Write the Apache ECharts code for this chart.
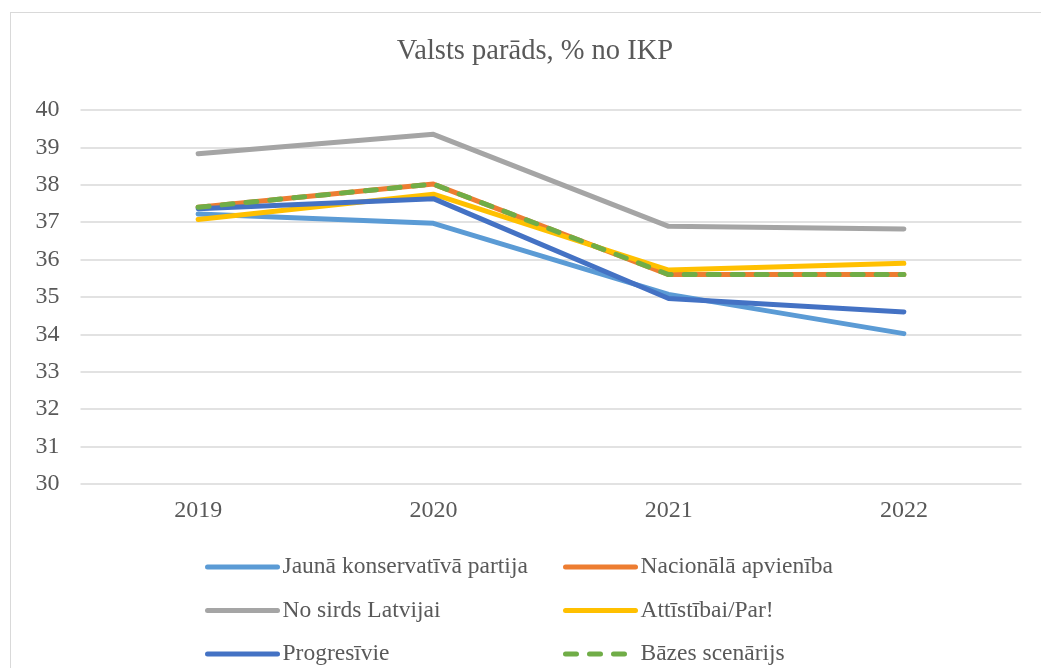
<!DOCTYPE html>
<html>
<head>
<meta charset="utf-8">
<script src="https://cdn.jsdelivr.net/npm/echarts@6/dist/echarts.min.js"></script>
<style>
  html, body { margin: 0; padding: 0; background: #fff; overflow: hidden; }
  #frame { position: absolute; left: 10px; top: 12px; width: 1100px; height: 760px; border: 1.5px solid #d9d9d9; }
  #chart { position: absolute; left: 0; top: 0; width: 1041px; height: 720px; }
</style>
</head>
<body>
<div id="frame"></div>
<div id="chart"></div>
<script>
const years = ['2019', '2020', '2021', '2022'];
const jaunaKonservativa = [37.22, 36.97, 35.07, 34.02];
const nacionalaApvieniba = [37.4, 38.02, 35.6, 35.6];
const noSirdsLatvijai = [38.83, 39.35, 36.89, 36.82];
const attistibaiPar = [37.07, 37.75, 35.72, 35.9];
const progresivie = [37.36, 37.63, 34.96, 34.6];
const bazesScenarijs = [37.4, 38.02, 35.6, 35.6];

const chart = echarts.init(document.getElementById('chart'));

const font = '"Liberation Serif", "Times New Roman", serif';
const textColor = '#595959';

function lineSeries(name, data, color, dash) {
  return {
    name: name,
    type: 'line',
    data: data,
    symbol: 'none',
    lineStyle: { color: color, width: 5, type: dash || 'solid', cap: 'round', join: 'round' },
    itemStyle: { color: color }
  };
}

// legend columns: icon is the line only (symbol hidden)
function legendColumn(left, names) {
  return {
    orient: 'vertical',
    left: left,
    top: 550,
    itemWidth: 70,
    itemHeight: 24,
    itemGap: 19.5,
    data: names,
    itemStyle: { opacity: 0 },
    lineStyle: { width: 5, cap: 'round' },
    textStyle: { color: textColor, fontSize: 23.5, fontFamily: font, lineHeight: 24 }
  };
}

const option = {
  backgroundColor: 'transparent',
  animation: false,
  title: {
    text: 'Valsts parāds, % no IKP',
    left: 530,
    top: 32,
    textAlign: 'center',
    textStyle: { color: textColor, fontSize: 28.5, fontWeight: 'normal', fontFamily: font }
  },
  legend: [
    legendColumn(200, ['Jaunā konservatīvā partija', 'No sirds Latvijai', 'Progresīvie']),
    legendColumn(558, ['Nacionālā apvienība', 'Attīstībai/Par!', 'Bāzes scenārijs'])
  ],
  grid: { left: 80.5, right: 19.5, top: 110, bottom: 236 },
  xAxis: {
    type: 'category',
    data: years,
    boundaryGap: true,
    axisLine: { show: false },
    axisTick: { show: false },
    axisLabel: { color: textColor, fontSize: 24, fontFamily: font, margin: 15 }
  },
  yAxis: {
    type: 'value',
    min: 30,
    max: 40,
    interval: 1,
    axisLine: { show: false },
    axisTick: { show: false },
    axisLabel: { color: textColor, fontSize: 24, fontFamily: font, margin: 21 },
    splitLine: { lineStyle: { color: '#d9d9d9', width: 1.5 } }
  },
  series: [
    lineSeries('Jaunā konservatīvā partija', jaunaKonservativa, '#5b9bd5'),
    lineSeries('Nacionālā apvienība', nacionalaApvieniba, '#ed7d31'),
    lineSeries('No sirds Latvijai', noSirdsLatvijai, '#a5a5a5'),
    lineSeries('Attīstībai/Par!', attistibaiPar, '#ffc000'),
    lineSeries('Progresīvie', progresivie, '#4472c4'),
    lineSeries('Bāzes scenārijs', bazesScenarijs, '#70ad47', [11, 13])
  ]
};

chart.setOption(option);
</script>
</body>
</html>
